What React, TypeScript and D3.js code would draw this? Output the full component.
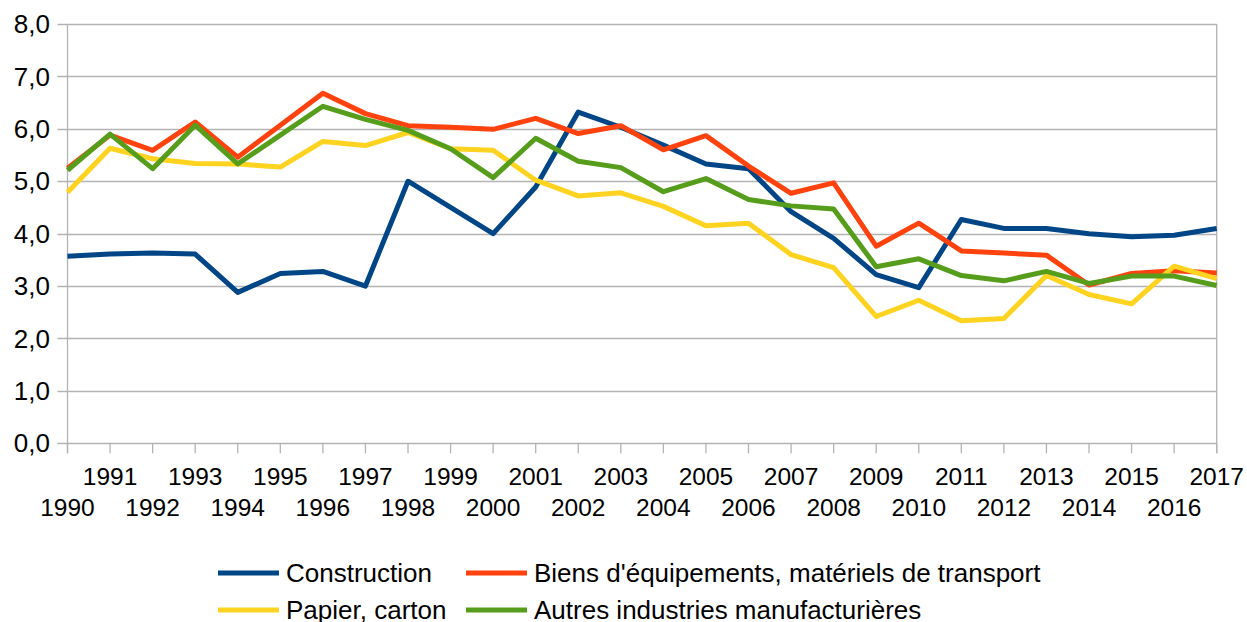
import React, { useEffect, useRef } from 'react';
import * as d3 from 'd3';

const years = d3.range(1990, 2018);

const construction = [
  3.57, 3.61, 3.63, 3.61, 2.88, 3.24, 3.28, 3.0, 5.0, 4.5,
  4.0, 4.89, 6.32, 6.03, 5.69, 5.33, 5.24, 4.42, 3.91, 3.22,
  2.97, 4.27, 4.1, 4.1, 4.0, 3.94, 3.97, 4.1,
];
const biens = [
  5.25, 5.88, 5.59, 6.13, 5.46, 6.07, 6.68, 6.29, 6.06, 6.03,
  5.99, 6.2, 5.91, 6.06, 5.6, 5.87, 5.29, 4.77, 4.97, 3.76,
  4.2, 3.67, 3.63, 3.59, 3.02, 3.24, 3.29, 3.25,
];
const papier = [
  4.79, 5.63, 5.43, 5.34, 5.33, 5.27, 5.76, 5.68, 5.93, 5.62,
  5.59, 5.02, 4.72, 4.78, 4.52, 4.15, 4.2, 3.6, 3.35, 2.42,
  2.73, 2.34, 2.38, 3.2, 2.84, 2.66, 3.38, 3.14,
];
const autres = [
  5.21, 5.9, 5.24, 6.07, 5.33, 5.88, 6.43, 6.18, 5.97, 5.62,
  5.07, 5.82, 5.38, 5.26, 4.8, 5.05, 4.65, 4.53, 4.47, 3.37,
  3.52, 3.2, 3.1, 3.28, 3.05, 3.19, 3.19, 3.01,
];

const seriesNames = [
  'Construction',
  "Biens d'équipements, matériels de transport",
  'Papier, carton',
  'Autres industries manufacturières',
];
const seriesValues = [construction, biens, papier, autres];
const colors = ['#004586', '#ff420e', '#ffd320', '#579d1c'];
const yTicks = [0, 1, 2, 3, 4, 5, 6, 7, 8];

const FONT = '"Liberation Sans", Arial, sans-serif';

const Chart: React.FC = () => {
  const svgRef = useRef<SVGSVGElement | null>(null);

  useEffect(() => {
    if (!svgRef.current) return;
    const svg = d3.select(svgRef.current);
    svg.selectAll('*').remove();

    const width = 1247;
    const height = 622;
    svg.attr('width', width).attr('height', height);

    const x = d3.scaleLinear().domain([1990, 2017]).range([67.5, 1216.7]);
    const y = d3.scaleLinear().domain([0, 8]).range([443.3, 24]);

    const gridColor = '#b3b3b3';

    // Grid lines + y ticks
    svg
      .append('g')
      .selectAll('line')
      .data(yTicks)
      .enter()
      .append('line')
      .attr('x1', 57.5)
      .attr('x2', x(2017))
      .attr('y1', (d) => Math.round(y(d)) + 0.5)
      .attr('y2', (d) => Math.round(y(d)) + 0.5)
      .attr('stroke', gridColor)
      .attr('stroke-width', 1.3);

    // Axis frame lines
    [1990, 2017].forEach((yr) => {
      svg
        .append('line')
        .attr('x1', x(yr))
        .attr('x2', x(yr))
        .attr('y1', y(8))
        .attr('y2', y(0) + 10)
        .attr('stroke', gridColor)
        .attr('stroke-width', 1.3);
    });

    // X ticks
    svg
      .append('g')
      .selectAll('line')
      .data(years)
      .enter()
      .append('line')
      .attr('x1', (d) => x(d))
      .attr('x2', (d) => x(d))
      .attr('y1', y(0))
      .attr('y2', y(0) + 10)
      .attr('stroke', gridColor)
      .attr('stroke-width', 1.3);

    // Y labels
    svg
      .append('g')
      .selectAll('text')
      .data(yTicks)
      .enter()
      .append('text')
      .attr('x', 50)
      .attr('y', (d) => y(d))
      .attr('dy', '0.35em')
      .attr('text-anchor', 'end')
      .style('font-family', FONT)
      .style('font-size', '26px')
      .attr('fill', '#000')
      .text((d) => d3.format('.1f')(d).replace('.', ','));

    // X labels, staggered
    svg
      .append('g')
      .selectAll('text')
      .data(years)
      .enter()
      .append('text')
      .attr('x', (d) => x(d))
      .attr('y', (d) => (d % 2 === 1 ? 476.5 : 507))
      .attr('dy', '0.35em')
      .attr('text-anchor', 'middle')
      .style('font-family', FONT)
      .style('font-size', '24.5px')
      .attr('fill', '#000')
      .text((d) => String(d));

    // Lines
    const line = d3
      .line<number>()
      .x((_, i) => x(years[i]))
      .y((d) => y(d));

    seriesValues.forEach((vals, i) => {
      svg
        .append('path')
        .datum(vals)
        .attr('d', line)
        .attr('fill', 'none')
        .attr('stroke', colors[i])
        .attr('stroke-width', 5)
        .attr('stroke-linejoin', 'round');
    });

    // Legend
    const legendPos = [
      { x: 218, y: 573 },
      { x: 466, y: 573 },
      { x: 218, y: 610 },
      { x: 466, y: 610 },
    ];
    const legend = svg
      .append('g')
      .selectAll('g')
      .data(seriesNames)
      .enter()
      .append('g')
      .attr('transform', (_, i) => `translate(${legendPos[i].x},${legendPos[i].y})`);
    legend
      .append('line')
      .attr('x1', 0)
      .attr('x2', 61)
      .attr('y1', 0)
      .attr('y2', 0)
      .attr('stroke', (_, i) => colors[i])
      .attr('stroke-width', 5);
    legend
      .append('text')
      .attr('x', 68)
      .attr('y', 0)
      .attr('dy', '0.35em')
      .style('font-family', FONT)
      .style('font-size', '26px')
      .attr('fill', '#000')
      .text((d) => d);
  }, []);

  return <svg ref={svgRef} style={{ position: 'absolute', left: 0, top: 0 }}></svg>;
};

export default function App() {
  return <Chart />;
}
